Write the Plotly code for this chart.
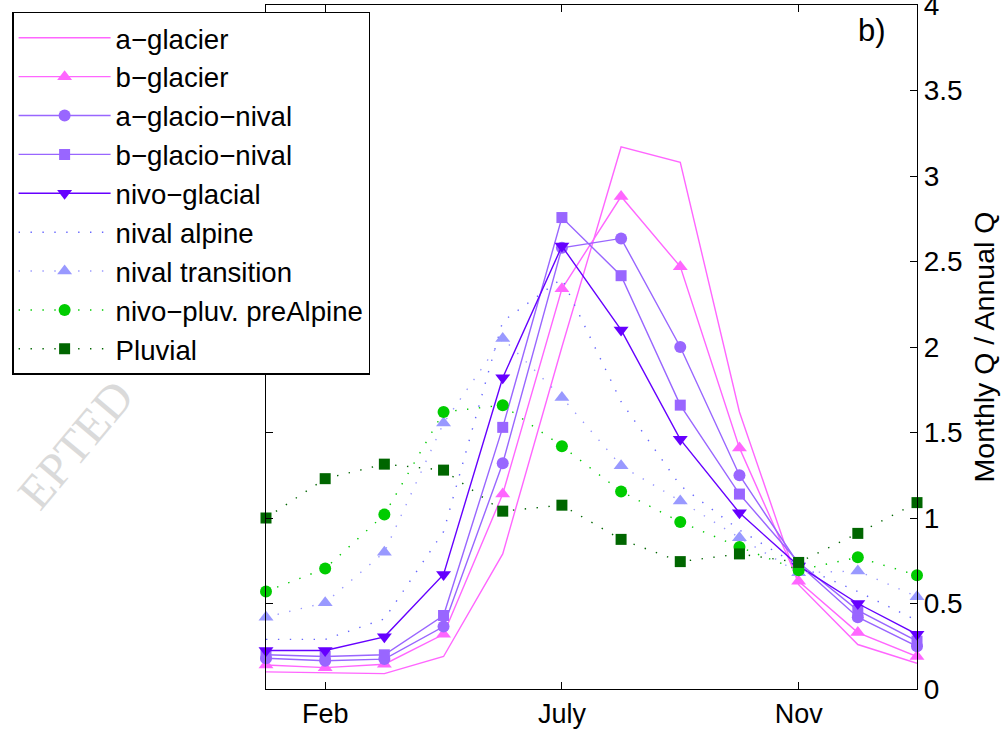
import plotly.graph_objects as go

months = [1, 2, 3, 4, 5, 6, 7, 8, 9, 10, 11, 12]
tick_vals = [2, 6, 10]
tick_text = ["Feb", "July", "Nov"]
y_ticks = [0, 0.5, 1, 1.5, 2, 2.5, 3, 3.5, 4]
y_text = ["0", "0.5", "1", "1.5", "2", "2.5", "3", "3.5", "4"]

a_glacier = [0.10, 0.095, 0.09, 0.19, 0.79, 2.00, 3.17, 3.08, 1.62, 0.61, 0.26, 0.15]
b_glacier = [0.14, 0.125, 0.145, 0.32, 1.14, 2.34, 2.88, 2.47, 1.41, 0.63, 0.33, 0.19]
a_glacio_nival = [0.18, 0.165, 0.175, 0.365, 1.32, 2.58, 2.635, 2.00, 1.25, 0.73, 0.42, 0.25]
b_glacio_nival = [0.20, 0.19, 0.20, 0.43, 1.53, 2.757, 2.417, 1.66, 1.14, 0.74, 0.46, 0.28]
nivo_glacial = [0.225, 0.225, 0.305, 0.67, 1.82, 2.59, 2.10, 1.46, 1.03, 0.72, 0.50, 0.32]
nival_alpine = [0.29, 0.29, 0.41, 0.92, 2.15, 2.40, 1.68, 1.19, 0.93, 0.72, 0.57, 0.40]
nival_transition = [0.42, 0.505, 0.80, 1.555, 2.05, 1.705, 1.305, 1.10, 0.885, 0.68, 0.69, 0.54]
nivo_pluv = [0.57, 0.705, 1.02, 1.62, 1.66, 1.42, 1.155, 0.977, 0.83, 0.695, 0.77, 0.665]
pluvial = [1.00, 1.23, 1.315, 1.28, 1.04, 1.075, 0.875, 0.745, 0.79, 0.74, 0.91, 1.09]

FONT = "Liberation Sans, Arial, sans-serif"
DOT = "1.4px,10.5px"

series = [
    ("a−glacier", a_glacier, "#FF66FF", "solid", None),
    ("b−glacier", b_glacier, "#FF66FF", "solid", "triangle-up"),
    ("a−glacio−nival", a_glacio_nival, "#9966FF", "solid", "circle"),
    ("b−glacio−nival", b_glacio_nival, "#9966FF", "solid", "square"),
    ("nivo−glacial", nivo_glacial, "#6600FF", "solid", "triangle-down"),
    ("nival alpine", nival_alpine, "#6666FF", DOT, None),
    ("nival transition", nival_transition, "#9999FF", DOT, "triangle-up"),
    ("nivo−pluv. preAlpine", nivo_pluv, "#00CC00", DOT, "circle"),
    ("Pluvial", pluvial, "#006600", DOT, "square"),
]
msizes = {"circle": 12, "square": 11, "triangle-up": 13, "triangle-down": 13}

fig = go.Figure()
for name, vals, color, dash, sym in series:
    kw = dict(x=months, y=vals, name=name, cliponaxis=False,
              line=dict(color=color, width=1.4, dash=dash))
    if sym is None:
        kw["mode"] = "lines"
    else:
        kw["mode"] = "lines+markers"
        kw["marker"] = dict(symbol=sym, size=msizes[sym], color=color, line=dict(width=0))
    fig.add_trace(go.Scatter(**kw))

fig.update_layout(
    width=1006, height=729,
    margin=dict(l=266, r=89, t=5, b=40, autoexpand=False),
    paper_bgcolor="white", plot_bgcolor="rgba(0,0,0,0)",
    font=dict(family=FONT, size=28, color="black"),
    showlegend=True,
    legend=dict(x=-0.39, y=0.99, xanchor="left", yanchor="top",
                bgcolor="white", bordercolor="black", borderwidth=1.5,
                font=dict(family=FONT, size=27.6, color="black"),
                itemwidth=92, tracegroupgap=0),
    xaxis=dict(range=[1, 12], tickmode="array", tickvals=tick_vals, ticktext=tick_text,
               ticks="inside", ticklen=7, tickcolor="black", showline=True,
               linecolor="black", linewidth=1.3, mirror="ticks", showgrid=False,
               zeroline=False, tickfont=dict(size=27), ticklabelstandoff=0,
               automargin=False, ticklabeloverflow="allow"),
    yaxis=dict(range=[0, 4], tickmode="array", tickvals=y_ticks, ticktext=y_text,
               side="right", ticks="inside", ticklen=7,
               tickcolor="black", showline=True, linecolor="black", linewidth=1.3,
               mirror="ticks", showgrid=False, zeroline=False, tickfont=dict(size=28),
               automargin=False, ticklabeloverflow="allow",
               title=dict(text="Monthly Q / Annual Q", font=dict(size=28.5), standoff=12)),
    annotations=[
        dict(text="b)", x=0.956, y=0.991, xref="paper", yref="paper", showarrow=False,
             font=dict(family=FONT, size=31, color="black")),
        dict(text="EPTED", x=-0.402, y=0.357, xref="paper", yref="paper", showarrow=False,
             textangle=-50, font=dict(family="Liberation Serif, serif", size=48, color="#dadada")),
    ],
)

fig.write_html("out.html")
